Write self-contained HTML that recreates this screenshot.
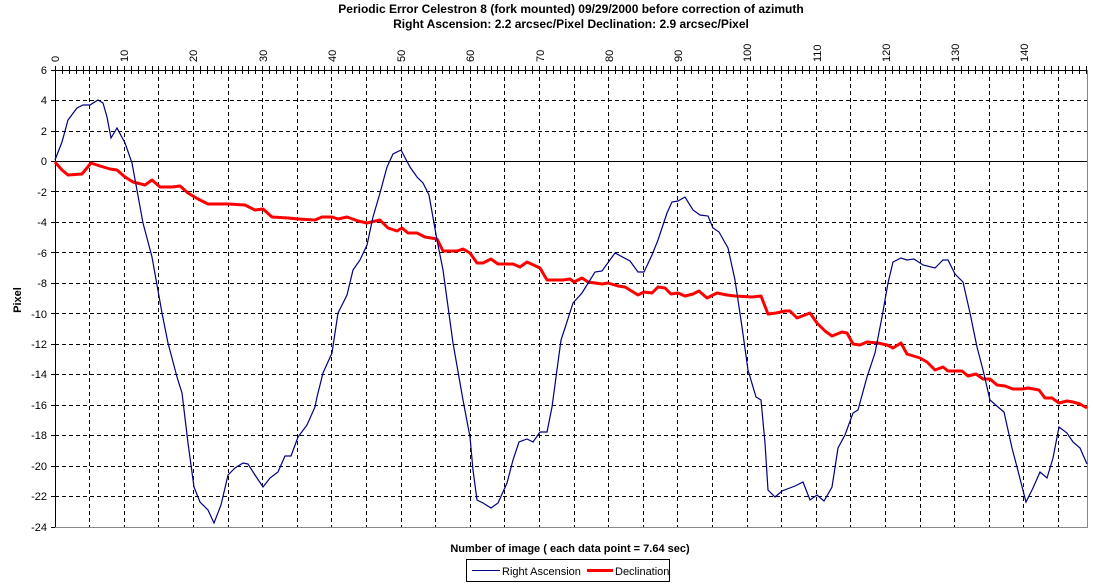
<!DOCTYPE html>
<html><head><style>
body{margin:0;background:#fff;}
svg{display:block;font-family:"Liberation Sans",Arial,sans-serif;}
</style></head><body>
<svg width="1093" height="586" viewBox="0 0 1093 586" xmlns="http://www.w3.org/2000/svg">
<rect width="1093" height="586" fill="#fff"/>
<text x="571" y="13" font-size="12" font-weight="bold" text-anchor="middle">Periodic Error Celestron 8 (fork mounted) 09/29/2000 before correction of azimuth</text>
<text x="571" y="28" font-size="12" font-weight="bold" text-anchor="middle">Right Ascension: 2.2 arcsec/Pixel  Declination: 2.9 arcsec/Pixel</text>
<g stroke="#000" stroke-width="1" stroke-dasharray="4,3" fill="none">
<path d="M89.5 70V527M124.5 70V527M158.5 70V527M193.5 70V527M228.5 70V527M262.5 70V527M297.5 70V527M331.5 70V527M366.5 70V527M401.5 70V527M435.5 70V527M470.5 70V527M504.5 70V527M539.5 70V527M574.5 70V527M608.5 70V527M643.5 70V527M677.5 70V527M712.5 70V527M747.5 70V527M781.5 70V527M816.5 70V527M850.5 70V527M885.5 70V527M920.5 70V527M954.5 70V527M989.5 70V527M1023.5 70V527M1058.5 70V527"/>
<path d="M55 100.5H1087M55 131.5H1087M55 191.5H1087M55 222.5H1087M55 252.5H1087M55 283.5H1087M55 313.5H1087M55 344.5H1087M55 374.5H1087M55 405.5H1087M55 435.5H1087M55 466.5H1087M55 496.5H1087"/>
</g>
<path d="M55 161.5H1087" stroke="#000"/>
<path d="M1087.5 70V527.5H55" stroke="#888" fill="none"/>
<path d="M55 70.5H1087M55.5 70V527" stroke="#000"/>
<path stroke="#000" d="M55.5 66V74M62.5 66V74M69.5 66V74M76.5 66V74M83.5 66V74M89.5 66V74M96.5 66V74M103.5 66V74M110.5 66V74M117.5 66V74M124.5 66V74M131.5 66V74M138.5 66V74M145.5 66V74M152.5 66V74M158.5 66V74M165.5 66V74M172.5 66V74M179.5 66V74M186.5 66V74M193.5 66V74M200.5 66V74M207.5 66V74M214.5 66V74M221.5 66V74M228.5 66V74M235.5 66V74M242.5 66V74M248.5 66V74M255.5 66V74M262.5 66V74M269.5 66V74M276.5 66V74M283.5 66V74M290.5 66V74M297.5 66V74M304.5 66V74M311.5 66V74M318.5 66V74M324.5 66V74M331.5 66V74M338.5 66V74M345.5 66V74M352.5 66V74M359.5 66V74M366.5 66V74M373.5 66V74M380.5 66V74M387.5 66V74M394.5 66V74M401.5 66V74M408.5 66V74M414.5 66V74M421.5 66V74M428.5 66V74M435.5 66V74M442.5 66V74M449.5 66V74M456.5 66V74M463.5 66V74M470.5 66V74M477.5 66V74M484.5 66V74M491.5 66V74M497.5 66V74M504.5 66V74M511.5 66V74M518.5 66V74M525.5 66V74M532.5 66V74M539.5 66V74M546.5 66V74M553.5 66V74M560.5 66V74M567.5 66V74M574.5 66V74M580.5 66V74M587.5 66V74M594.5 66V74M601.5 66V74M608.5 66V74M615.5 66V74M622.5 66V74M629.5 66V74M636.5 66V74M643.5 66V74M650.5 66V74M656.5 66V74M663.5 66V74M670.5 66V74M677.5 66V74M684.5 66V74M691.5 66V74M698.5 66V74M705.5 66V74M712.5 66V74M719.5 66V74M726.5 66V74M733.5 66V74M740.5 66V74M747.5 66V74M753.5 66V74M760.5 66V74M767.5 66V74M774.5 66V74M781.5 66V74M788.5 66V74M795.5 66V74M802.5 66V74M809.5 66V74M816.5 66V74M823.5 66V74M829.5 66V74M836.5 66V74M843.5 66V74M850.5 66V74M857.5 66V74M864.5 66V74M871.5 66V74M878.5 66V74M885.5 66V74M892.5 66V74M899.5 66V74M906.5 66V74M913.5 66V74M920.5 66V74M926.5 66V74M933.5 66V74M940.5 66V74M947.5 66V74M954.5 66V74M961.5 66V74M968.5 66V74M975.5 66V74M982.5 66V74M989.5 66V74M996.5 66V74M1002.5 66V74M1009.5 66V74M1016.5 66V74M1023.5 66V74M1030.5 66V74M1037.5 66V74M1044.5 66V74M1051.5 66V74M1058.5 66V74M1065.5 66V74M1072.5 66V74M1079.5 66V74M1086.5 66V74M51 70.5H55M51 100.5H55M51 131.5H55M51 161.5H55M51 191.5H55M51 222.5H55M51 252.5H55M51 283.5H55M51 313.5H55M51 344.5H55M51 374.5H55M51 405.5H55M51 435.5H55M51 466.5H55M51 496.5H55M51 527.5H55"/>
<g font-size="11" text-anchor="end">
<text x="47" y="74">6</text><text x="47" y="104">4</text><text x="47" y="135">2</text><text x="47" y="165">0</text>
<text x="47" y="196">-2</text><text x="47" y="226">-4</text><text x="47" y="257">-6</text><text x="47" y="287">-8</text>
<text x="47" y="318">-10</text><text x="47" y="348">-12</text><text x="47" y="378">-14</text><text x="47" y="409">-16</text>
<text x="47" y="439">-18</text><text x="47" y="470">-20</text><text x="47" y="500">-22</text><text x="47" y="531">-24</text>
</g>
<g font-size="11">
<text transform="translate(59,62) rotate(-90)">0</text>
<text transform="translate(128,62) rotate(-90)">10</text>
<text transform="translate(197,62) rotate(-90)">20</text>
<text transform="translate(267,62) rotate(-90)">30</text>
<text transform="translate(336,62) rotate(-90)">40</text>
<text transform="translate(405,62) rotate(-90)">50</text>
<text transform="translate(474,62) rotate(-90)">60</text>
<text transform="translate(544,62) rotate(-90)">70</text>
<text transform="translate(613,62) rotate(-90)">80</text>
<text transform="translate(682,62) rotate(-90)">90</text>
<text transform="translate(751,62) rotate(-90)">100</text>
<text transform="translate(821,62) rotate(-90)">110</text>
<text transform="translate(890,62) rotate(-90)">120</text>
<text transform="translate(959,62) rotate(-90)">130</text>
<text transform="translate(1028,62) rotate(-90)">140</text>
</g>
<text transform="translate(21,300) rotate(-90)" font-size="11" font-weight="bold" text-anchor="middle">Pixel</text>
<text x="570" y="552" font-size="11" font-weight="bold" text-anchor="middle">Number of image ( each data point = 7.64 sec)</text>
<rect x="466.5" y="559.5" width="203" height="22" fill="#fff" stroke="#000"/>
<line x1="472" y1="570.5" x2="500" y2="570.5" stroke="#000080"/>
<text x="502" y="575" font-size="11">Right Ascension</text>
<line x1="587" y1="570.5" x2="613" y2="570.5" stroke="#ff0000" stroke-width="3"/>
<text x="615" y="575" font-size="11">Declination</text>
<polyline fill="none" stroke="#ff0000" stroke-width="3" stroke-linejoin="round" points="55,162 62,170 68,175 82,174 91,163 100,166 110,169 117,170 125,177 133,182 145,185 152,180 160,187 172,187 180,186 188,193 198,199 208,204 222,204 228,204 245,205 255,210 263,209 272,217 288,218 298,219 315,220 322,217 332,217 338,219 347,217 358,221 367,223 380,220 388,228 397,231 402,228 408,233 417,233 425,237 437,239 443,251 457,251 463,249 470,253 477,263 483,263 491,259 498,264 513,264 520,267 527,262 540,268 547,280 563,280 570,279 574,282 582,278 588,282 602,284 608,283 618,286 625,287 638,295 644,292 652,293 658,287 665,288 671,294 678,293 685,296 693,294 699,291 707,298 717,293 727,295 735,296 752,297 761,296 768,314 776,313 785,311 790,311 797,318 810,313 817,323 825,331 832,336 842,332 847,333 853,344 860,345 867,342 878,343 887,345 893,348 901,343 907,354 920,358 927,362 935,370 943,367 948,371 962,371 968,376 976,374 983,379 990,379 997,385 1005,386 1013,389 1023,389 1028,388 1039,390 1045,398 1052,398 1059,403 1067,401 1073,402 1080,404 1087,408"/>
<polyline fill="none" stroke="#000080" stroke-width="1.2" points="55,160 62,142 68,120 77,108 83,105 90,105 98,100 103,103 107,117 111,138 117,128 125,143 132,163 143,223 152,257 162,313 168,343 177,377 182,393 188,443 194,487 200,502 208,510 214,523 221,505 228,475 235,468 243,463 248,464 255,475 263,487 270,478 278,472 285,456 291,456 298,437 307,425 315,407 317,397 323,373 332,353 338,313 347,295 353,270 360,260 367,245 373,217 380,193 387,167 393,154 401,150 410,167 417,177 423,183 429,195 437,240 443,270 453,343 463,400 470,437 473,470 477,500 483,503 491,508 498,503 507,483 513,460 519,442 527,439 533,442 540,432 547,432 552,407 561,340 565,328 573,303 582,293 595,272 602,271 615,253 630,261 638,272 644,272 652,255 658,240 667,213 672,202 678,201 685,197 693,210 700,215 708,216 713,228 719,232 728,248 735,280 742,327 748,370 756,397 761,400 765,443 768,490 775,497 782,491 795,486 803,482 810,500 817,495 824,501 832,487 838,448 845,435 853,413 858,410 867,377 875,353 882,317 888,283 893,262 901,258 907,260 914,259 923,265 935,268 943,260 948,260 955,274 963,282 970,313 977,347 983,370 990,400 998,407 1004,412 1012,448 1017,467 1026,502 1033,488 1040,472 1047,478 1053,458 1059,427 1067,433 1073,442 1080,448 1087,464"/>
</svg>
</body></html>
